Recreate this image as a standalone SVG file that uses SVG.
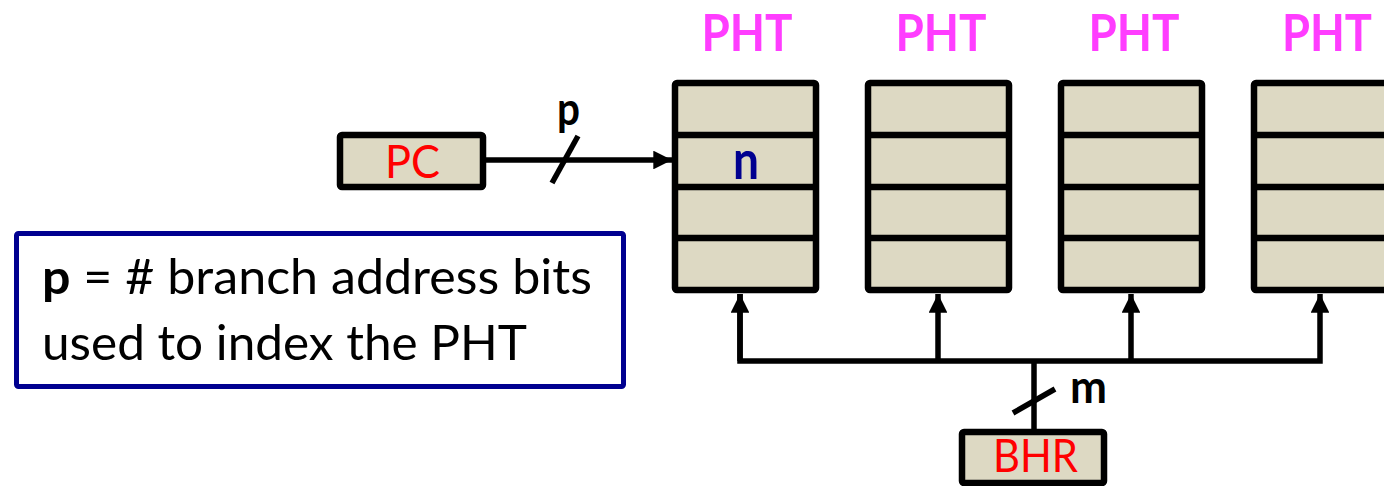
<svg xmlns="http://www.w3.org/2000/svg" width="1384" height="486" viewBox="0 0 1384 486">
  <style>
    .box { fill: #DDD9C3; stroke: #000; stroke-width: 6.5; }
    .row { stroke: #000; stroke-width: 6.5; }
    .wire { fill: none; stroke: #000; stroke-width: 5.5; }
    .reg { font-family: Lato, "Liberation Sans", sans-serif; font-size: 46px; fill: #FF0000; text-anchor: middle; }
    .title { font-family: Lato, "Liberation Sans", sans-serif; font-size: 52px; font-weight: bold; fill: #FF3DFF; text-anchor: middle; }
    .bits { font-family: Lato, "Liberation Sans", sans-serif; font-size: 46px; font-weight: bold; fill: #000; text-anchor: middle; }
    .note { font-family: Lato, "Liberation Sans", sans-serif; font-size: 48px; fill: #000; }
  </style>
  <defs>
    <marker id="arrow" viewBox="0 0 10 10" refX="10" refY="5" markerWidth="3.4" markerHeight="3.4" markerUnits="strokeWidth" orient="auto">
      <path d="M0,0 L10,5 L0,10 z" fill="#000"/>
    </marker>
  </defs>

  <!-- connectors -->
  <g id="connectors">
    <line class="wire" x1="486" y1="160" x2="672" y2="160" marker-end="url(#arrow)"/>
    <line class="wire" x1="552" y1="183" x2="578" y2="136"/>
    <polyline class="wire" points="740,294 740,361 1320,361 1320,294" marker-end="url(#arrow)"/>
    <line class="wire" x1="740" y1="361" x2="740" y2="294" marker-end="url(#arrow)"/>
    <line class="wire" x1="938" y1="361" x2="938" y2="294" marker-end="url(#arrow)"/>
    <line class="wire" x1="1131" y1="361" x2="1131" y2="294" marker-end="url(#arrow)"/>
    <line class="wire" x1="1034" y1="361" x2="1034" y2="430"/>
    <line class="wire" x1="1013" y1="413" x2="1055" y2="389"/>
    <text class="bits" x="568.5" y="125" textLength="23" lengthAdjust="spacingAndGlyphs">p</text>
    <text class="bits" x="1088.5" y="403" textLength="37" lengthAdjust="spacingAndGlyphs">m</text>
  </g>

  <!-- program counter -->
  <g id="pc">
    <rect class="box" x="340" y="135" width="143" height="52" rx="2"/>
    <text class="reg" x="412.5" y="178" textLength="55" lengthAdjust="spacingAndGlyphs">PC</text>
  </g>

  <!-- branch history register -->
  <g id="bhr">
    <rect class="box" x="962" y="432" width="142" height="51" rx="2"/>
    <text class="reg" x="1035.5" y="472" textLength="85" lengthAdjust="spacingAndGlyphs">BHR</text>
  </g>

  <!-- pattern history tables -->
  <g id="pht1">
    <text class="title" x="747" y="51" textLength="91" lengthAdjust="spacingAndGlyphs">PHT</text>
    <rect class="box" x="675" y="83" width="141" height="207" rx="2"/>
    <line class="row" x1="675" y1="135" x2="816" y2="135"/>
    <line class="row" x1="675" y1="187" x2="816" y2="187"/>
    <line class="row" x1="675" y1="238" x2="816" y2="238"/>
    <text x="746" y="179" font-family="Lato, Liberation Sans, sans-serif" font-size="54" font-weight="bold" fill="#000090" text-anchor="middle" textLength="26" lengthAdjust="spacingAndGlyphs">n</text>
  </g>
  <g id="pht2">
    <text class="title" x="941" y="51" textLength="91" lengthAdjust="spacingAndGlyphs">PHT</text>
    <rect class="box" x="868" y="83" width="141" height="207" rx="2"/>
    <line class="row" x1="868" y1="135" x2="1009" y2="135"/>
    <line class="row" x1="868" y1="187" x2="1009" y2="187"/>
    <line class="row" x1="868" y1="238" x2="1009" y2="238"/>
  </g>
  <g id="pht3">
    <text class="title" x="1134" y="51" textLength="91" lengthAdjust="spacingAndGlyphs">PHT</text>
    <rect class="box" x="1061" y="83" width="141" height="207" rx="2"/>
    <line class="row" x1="1061" y1="135" x2="1202" y2="135"/>
    <line class="row" x1="1061" y1="187" x2="1202" y2="187"/>
    <line class="row" x1="1061" y1="238" x2="1202" y2="238"/>
  </g>
  <g id="pht4">
    <text class="title" x="1327" y="51" textLength="90" lengthAdjust="spacingAndGlyphs">PHT</text>
    <rect class="box" x="1254" y="83" width="141" height="207" rx="2"/>
    <line class="row" x1="1254" y1="135" x2="1395" y2="135"/>
    <line class="row" x1="1254" y1="187" x2="1395" y2="187"/>
    <line class="row" x1="1254" y1="238" x2="1395" y2="238"/>
  </g>

  <!-- legend -->
  <g id="legend">
    <rect x="16.5" y="233.5" width="607" height="153" rx="2" fill="#fff" stroke="#000090" stroke-width="5"/>
    <text class="note" x="42" y="294" textLength="550" lengthAdjust="spacingAndGlyphs"><tspan font-weight="bold">p</tspan> = # branch address bits</text>
    <text class="note" x="42" y="360" textLength="485" lengthAdjust="spacingAndGlyphs">used to index the PHT</text>
  </g>
</svg>
